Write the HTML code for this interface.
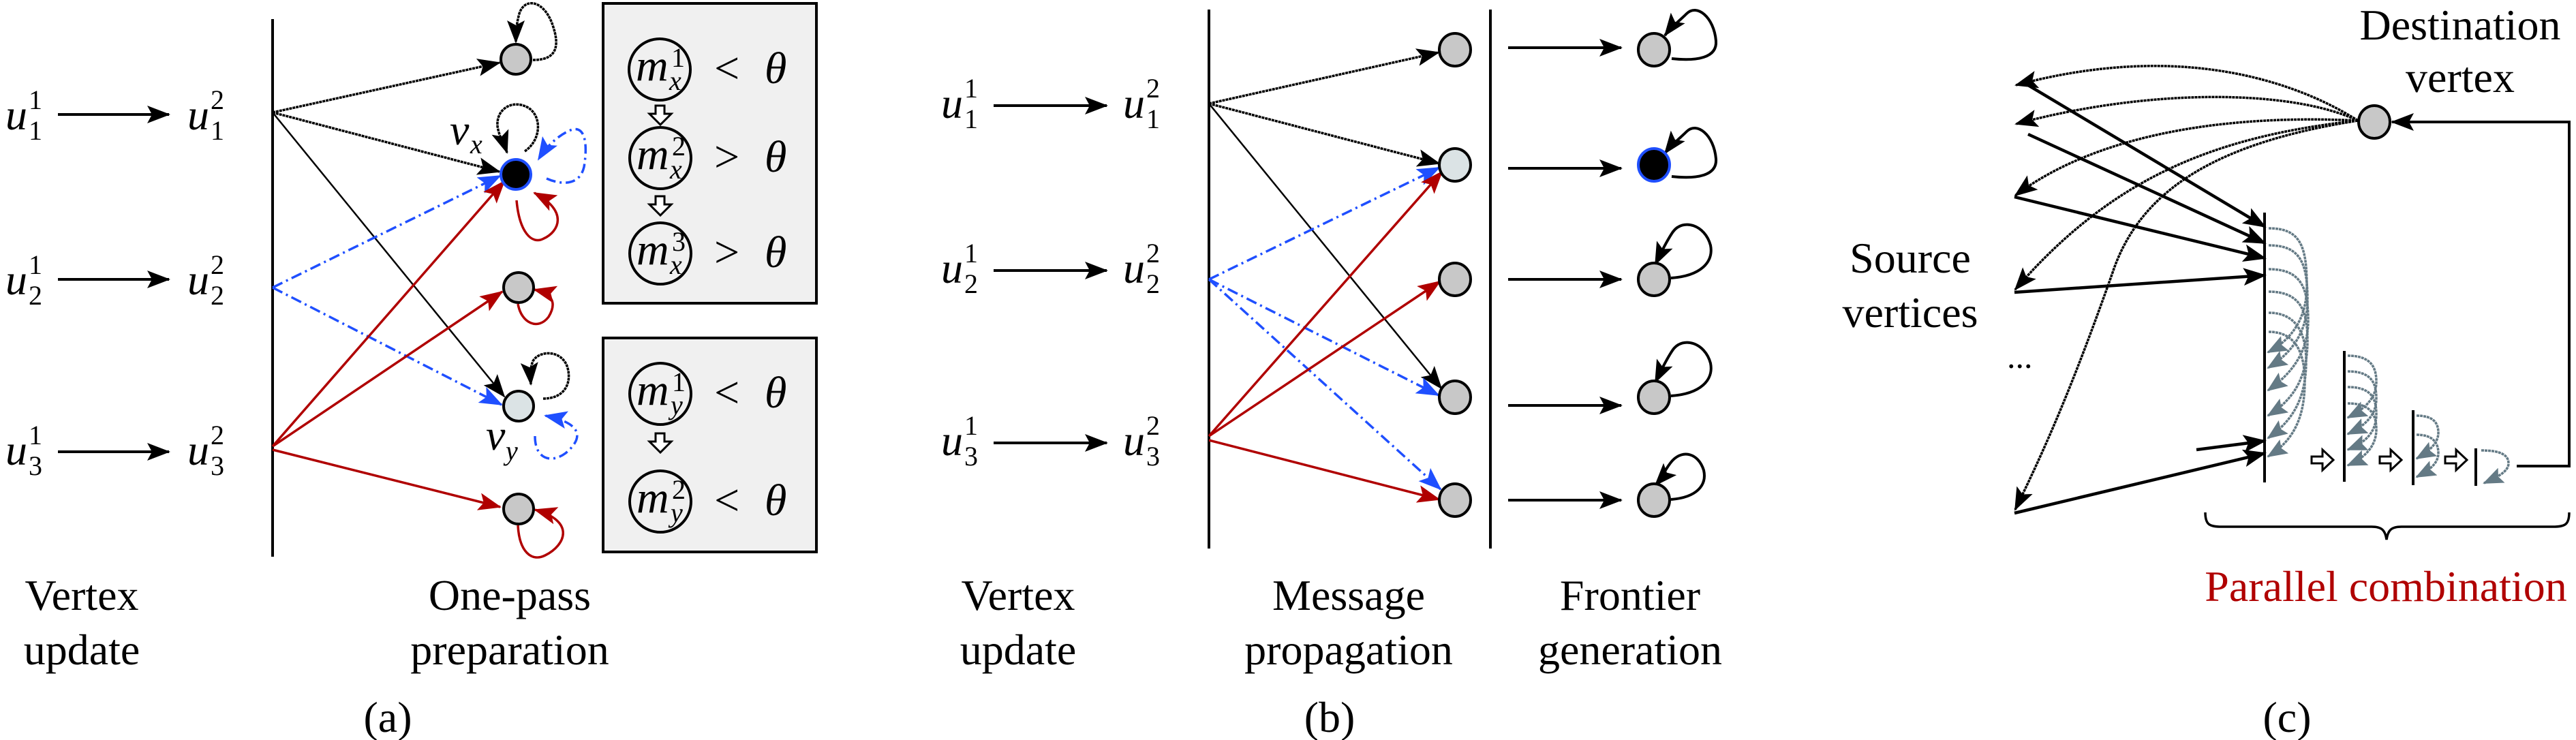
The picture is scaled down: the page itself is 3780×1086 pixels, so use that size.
<!DOCTYPE html>
<html><head><meta charset="utf-8"><style>
html,body{margin:0;padding:0;background:#fff;}
svg{display:block;font-family:"Liberation Serif","Times New Roman","DejaVu Serif",serif;}
svg text{font-family:"Liberation Serif","Times New Roman","DejaVu Serif",serif;}
.it{font-style:italic;}
</style></head><body>
<svg width="3780" height="1086" viewBox="0 0 3780 1086" xmlns="http://www.w3.org/2000/svg" font-family="Liberation Serif, DejaVu Serif, serif">
<defs>
<marker id="a" markerWidth="34" markerHeight="26" refX="32" refY="13" orient="auto" markerUnits="userSpaceOnUse" viewBox="0 0 34 26"><path d="M0,0 L34,13 L0,26 L7,13 z" fill="#000"/></marker>
<marker id="b" markerWidth="34" markerHeight="26" refX="32" refY="13" orient="auto" markerUnits="userSpaceOnUse" viewBox="0 0 34 26"><path d="M0,0 L34,13 L0,26 L7,13 z" fill="#1f4fff"/></marker>
<marker id="r" markerWidth="34" markerHeight="26" refX="32" refY="13" orient="auto" markerUnits="userSpaceOnUse" viewBox="0 0 34 26"><path d="M0,0 L34,13 L0,26 L7,13 z" fill="#b00000"/></marker>
<marker id="g" markerWidth="30" markerHeight="24" refX="28" refY="12" orient="auto" markerUnits="userSpaceOnUse" viewBox="0 0 30 24"><path d="M0,0 L30,12 L0,24 L5,12 z" fill="#647a85"/></marker>
</defs>

<!-- ============ Panel (a) ============ -->
<g font-size="64">
<text x="8" y="190" class="it">u</text><text x="42" y="160" font-size="40">1</text><text x="42" y="205" font-size="40">1</text>
<text x="275" y="190" class="it">u</text><text x="309" y="160" font-size="40">2</text><text x="309" y="205" font-size="40">1</text>
<text x="8" y="432" class="it">u</text><text x="42" y="402" font-size="40">1</text><text x="42" y="447" font-size="40">2</text>
<text x="275" y="432" class="it">u</text><text x="309" y="402" font-size="40">2</text><text x="309" y="447" font-size="40">2</text>
<text x="8" y="682" class="it">u</text><text x="42" y="652" font-size="40">1</text><text x="42" y="697" font-size="40">3</text>
<text x="275" y="682" class="it">u</text><text x="309" y="652" font-size="40">2</text><text x="309" y="697" font-size="40">3</text>
</g>
<g stroke="#000" stroke-width="4" marker-end="url(#a)">
<line x1="85" y1="168" x2="248" y2="168"/>
<line x1="85" y1="410" x2="248" y2="410"/>
<line x1="85" y1="663" x2="248" y2="663"/>
</g>
<line x1="400" y1="28" x2="400" y2="817" stroke="#000" stroke-width="4"/>

<g fill="none" stroke-width="3.5">
<line x1="400" y1="165" x2="733" y2="92" stroke="#000" stroke-dasharray="4,1" marker-end="url(#a)"/>
<line x1="400" y1="165" x2="733" y2="252" stroke="#000" stroke-dasharray="4,1" marker-end="url(#a)"/>
<line x1="400" y1="165" x2="740" y2="582" stroke="#000" stroke-width="2.5" marker-end="url(#a)"/>
<line x1="400" y1="422" x2="734" y2="258" stroke="#1f4fff" stroke-dasharray="16,6,3,6" marker-end="url(#b)"/>
<line x1="400" y1="422" x2="736" y2="594" stroke="#1f4fff" stroke-dasharray="16,6,3,6" marker-end="url(#b)"/>
<line x1="400" y1="655" x2="740" y2="266" stroke="#b00000" marker-end="url(#r)"/>
<line x1="400" y1="655" x2="737" y2="428" stroke="#b00000" marker-end="url(#r)"/>
<line x1="400" y1="660" x2="734" y2="744" stroke="#b00000" marker-end="url(#r)"/>
</g>
<g fill="none" stroke-width="3.5">
<path d="M782 88 C805 88 825 80 812 40 C800 0 770 -5 762 20 C758 35 757 45 757 62" stroke="#000" stroke-dasharray="4,1" marker-end="url(#a)"/>
<path d="M770 222 C795 205 795 170 775 158 C752 145 728 160 730 185 C732 200 740 212 744 224" stroke="#000" stroke-dasharray="4,1" marker-end="url(#a)"/>
<path d="M802 262 C820 270 850 275 857 245 C862 215 860 185 840 190 C825 195 805 210 790 234" stroke="#1f4fff" stroke-dasharray="14,6,3,6" marker-end="url(#b)"/>
<path d="M758 294 C762 340 780 360 798 350 C820 340 835 310 784 283" stroke="#b00000" marker-end="url(#r)"/>
<path d="M760 446 C765 475 790 485 805 465 C820 440 805 430 784 425" stroke="#b00000" marker-end="url(#r)"/>
<path d="M797 585 C830 585 840 560 832 537 C822 512 790 515 782 530 C778 540 778 550 779 564" stroke="#000" stroke-dasharray="4,1" marker-end="url(#a)"/>
<path d="M785 640 C785 675 810 680 830 665 C860 640 850 620 800 610" stroke="#1f4fff" stroke-dasharray="14,6,3,6" marker-end="url(#b)"/>
<path d="M760 771 C762 810 780 825 800 815 C830 800 845 765 785 748" stroke="#b00000" marker-end="url(#r)"/>
</g>
<g stroke="#000" stroke-width="4">
<circle cx="757" cy="87" r="22" fill="#c8c8c8"/>
<circle cx="757" cy="256" r="22" fill="#000" stroke="#1f4fff"/>
<circle cx="761" cy="422" r="22" fill="#c8c8c8"/>
<circle cx="761" cy="596" r="22" fill="#dbe3e5"/>
<circle cx="761" cy="747" r="22" fill="#c8c8c8"/>
</g>
<text x="660" y="212" font-size="64" class="it">v</text><text x="690" y="225" font-size="40" class="it">x</text>
<text x="713" y="660" font-size="64" class="it">v</text><text x="742" y="675" font-size="40" class="it">y</text>

<rect x="885" y="5" width="313" height="440" fill="#f0f0f0" stroke="#000" stroke-width="4"/>
<rect x="885" y="496" width="313" height="314" fill="#f0f0f0" stroke="#000" stroke-width="4"/>
<g fill="none" stroke="#000" stroke-width="4">
<circle cx="968" cy="102" r="45"/><circle cx="969" cy="232" r="45"/><circle cx="969" cy="372" r="45"/>
<circle cx="969" cy="578" r="45"/><circle cx="969" cy="736" r="45"/>
</g>
<g fill="#fff" stroke="#000" stroke-width="3">
<path d="M962 155 h13 v12 h10 l-16 16 l-16 -16 h9 z"/>
<path d="M962 288 h13 v12 h10 l-16 16 l-16 -16 h9 z"/>
<path d="M962 636 h13 v12 h10 l-16 16 l-16 -16 h9 z"/>
</g>
<g font-size="66">
<text x="933" y="118" class="it">m</text><text x="985" y="98" font-size="40">1</text><text x="982" y="132" font-size="40" class="it">x</text>
<text x="934" y="248" class="it">m</text><text x="986" y="228" font-size="40">2</text><text x="983" y="262" font-size="40" class="it">x</text>
<text x="934" y="388" class="it">m</text><text x="986" y="368" font-size="40">3</text><text x="983" y="402" font-size="40" class="it">x</text>
<text x="934" y="594" class="it">m</text><text x="986" y="574" font-size="40">1</text><text x="984" y="608" font-size="40" class="it">y</text>
<text x="934" y="752" class="it">m</text><text x="986" y="732" font-size="40">2</text><text x="984" y="766" font-size="40" class="it">y</text>
<text x="1048" y="122">&lt;</text><text x="1122" y="122" class="it">θ</text>
<text x="1048" y="252">&gt;</text><text x="1122" y="252" class="it">θ</text>
<text x="1048" y="392">&gt;</text><text x="1122" y="392" class="it">θ</text>
<text x="1048" y="598">&lt;</text><text x="1122" y="598" class="it">θ</text>
<text x="1048" y="756">&lt;</text><text x="1122" y="756" class="it">θ</text>
</g>
<g font-size="64" text-anchor="middle">
<text x="120" y="895">Vertex</text><text x="120" y="975">update</text>
<text x="748" y="895">One-pass</text><text x="748" y="975">preparation</text>
<text x="569" y="1074">(a)</text>
</g>

<!-- ============ Panel (b) ============ -->
<g font-size="64">
<text x="1381" y="173" class="it">u</text><text x="1415" y="143" font-size="40">1</text><text x="1415" y="188" font-size="40">1</text>
<text x="1648" y="173" class="it">u</text><text x="1682" y="143" font-size="40">2</text><text x="1682" y="188" font-size="40">1</text>
<text x="1381" y="415" class="it">u</text><text x="1415" y="385" font-size="40">1</text><text x="1415" y="430" font-size="40">2</text>
<text x="1648" y="415" class="it">u</text><text x="1682" y="385" font-size="40">2</text><text x="1682" y="430" font-size="40">2</text>
<text x="1381" y="668" class="it">u</text><text x="1415" y="638" font-size="40">1</text><text x="1415" y="683" font-size="40">3</text>
<text x="1648" y="668" class="it">u</text><text x="1682" y="638" font-size="40">2</text><text x="1682" y="683" font-size="40">3</text>
</g>
<g stroke="#000" stroke-width="4" marker-end="url(#a)">
<line x1="1458" y1="155" x2="1624" y2="155"/>
<line x1="1458" y1="397" x2="1624" y2="397"/>
<line x1="1458" y1="650" x2="1624" y2="650"/>
<line x1="2213" y1="70" x2="2379" y2="70"/>
<line x1="2213" y1="247" x2="2379" y2="247"/>
<line x1="2213" y1="410" x2="2379" y2="410"/>
<line x1="2213" y1="595" x2="2379" y2="595"/>
<line x1="2213" y1="734" x2="2379" y2="734"/>
</g>
<line x1="1774" y1="14" x2="1774" y2="805" stroke="#000" stroke-width="4"/>
<line x1="2187" y1="14" x2="2187" y2="805" stroke="#000" stroke-width="4"/>
<g fill="none" stroke-width="3.5">
<line x1="1774" y1="152" x2="2111" y2="77" stroke="#000" stroke-dasharray="4,1" marker-end="url(#a)"/>
<line x1="1774" y1="152" x2="2112" y2="240" stroke="#000" stroke-dasharray="4,1" marker-end="url(#a)"/>
<line x1="1774" y1="152" x2="2115" y2="570" stroke="#000" stroke-width="2.5" marker-end="url(#a)"/>
<line x1="1774" y1="410" x2="2112" y2="246" stroke="#1f4fff" stroke-dasharray="16,6,3,6" marker-end="url(#b)"/>
<line x1="1774" y1="410" x2="2111" y2="580" stroke="#1f4fff" stroke-dasharray="16,6,3,6" marker-end="url(#b)"/>
<line x1="1774" y1="410" x2="2114" y2="718" stroke="#1f4fff" stroke-dasharray="16,6,3,6" marker-end="url(#b)"/>
<line x1="1774" y1="640" x2="2116" y2="252" stroke="#b00000" marker-end="url(#r)"/>
<line x1="1774" y1="640" x2="2113" y2="413" stroke="#b00000" marker-end="url(#r)"/>
<line x1="1774" y1="646" x2="2112" y2="733" stroke="#b00000" marker-end="url(#r)"/>
</g>
<g fill="none" stroke="#000" stroke-width="4">
<path d="M2453 86 C2490 90 2520 85 2518 60 C2515 25 2490 5 2475 20 C2465 30 2452 40 2443 52" marker-end="url(#a)"/>
<path d="M2453 259 C2490 263 2520 258 2518 233 C2515 198 2490 178 2475 193 C2465 203 2452 213 2443 225" marker-end="url(#a)"/>
<path d="M2452 408 C2495 405 2515 385 2510 360 C2502 330 2470 320 2455 340 C2448 350 2440 365 2429 388" marker-end="url(#a)"/>
<path d="M2452 581 C2495 578 2515 558 2510 533 C2502 503 2470 493 2455 513 C2448 523 2440 538 2429 561" marker-end="url(#a)"/>
<path d="M2452 733 C2490 730 2505 712 2500 690 C2492 665 2470 660 2455 675 C2445 685 2440 700 2429 712" marker-end="url(#a)"/>
</g>
<g stroke="#000" stroke-width="4">
<ellipse cx="2135" cy="73" rx="23" ry="24" fill="#c8c8c8"/>
<ellipse cx="2135" cy="242" rx="23" ry="24" fill="#dbe3e5"/>
<ellipse cx="2135" cy="410" rx="23" ry="24" fill="#c8c8c8"/>
<ellipse cx="2135" cy="583" rx="23" ry="24" fill="#c8c8c8"/>
<ellipse cx="2135" cy="734" rx="23" ry="24" fill="#c8c8c8"/>
<ellipse cx="2427" cy="73" rx="23" ry="24" fill="#c8c8c8"/>
<ellipse cx="2427" cy="242" rx="23" ry="24" fill="#000" stroke="#1f4fff"/>
<ellipse cx="2427" cy="410" rx="23" ry="24" fill="#c8c8c8"/>
<ellipse cx="2427" cy="583" rx="23" ry="24" fill="#c8c8c8"/>
<ellipse cx="2427" cy="734" rx="23" ry="24" fill="#c8c8c8"/>
</g>
<g font-size="64" text-anchor="middle">
<text x="1494" y="895">Vertex</text><text x="1494" y="975">update</text>
<text x="1979" y="895">Message</text><text x="1979" y="975">propagation</text>
<text x="2392" y="895">Frontier</text><text x="2392" y="975">generation</text>
<text x="1951" y="1074">(b)</text>
</g>

<!-- ============ Panel (c) ============ -->
<g font-size="64" text-anchor="middle">
<text x="3610" y="58">Destination</text><text x="3610" y="135">vertex</text>
<text x="2803" y="400">Source</text><text x="2803" y="480">vertices</text>
<text x="3356" y="1074">(c)</text>
</g>
<text x="2945" y="540" font-size="50">...</text>
<text x="3501" y="882" font-size="64" text-anchor="middle" fill="#b00000">Parallel combination</text>
<g fill="none" stroke="#000" stroke-width="3.5" stroke-dasharray="4,1" marker-end="url(#a)">
<path d="M3460 177 C3370 120 3200 60 2958 125"/>
<path d="M3460 177 C3360 130 3150 130 2958 182"/>
<path d="M3460 177 C3320 170 3100 180 2957 287"/>
<path d="M3460 177 C3250 200 3100 260 2957 425"/>
<path d="M3460 177 C3250 210 3140 280 3100 400 C3040 570 3000 660 2957 748"/>
</g>
<g fill="none" stroke="#000" stroke-width="4.5" marker-end="url(#a)">
<line x1="2976" y1="125" x2="3324" y2="333"/>
<line x1="2976" y1="197" x2="3324" y2="357"/>
<line x1="2956" y1="289" x2="3324" y2="379"/>
<line x1="2956" y1="429" x2="3324" y2="404"/>
<line x1="3223" y1="660" x2="3324" y2="647"/>
<line x1="2956" y1="753" x2="3324" y2="665"/>
</g>
<path d="M3693 684 H3770 V179 H3510" fill="none" stroke="#000" stroke-width="4" marker-end="url(#a)"/>
<ellipse cx="3484" cy="179" rx="23" ry="24" fill="#c8c8c8" stroke="#000" stroke-width="4"/>
<g stroke="#000" stroke-width="4">
<line x1="3323" y1="312" x2="3323" y2="708"/>
<line x1="3440" y1="515" x2="3440" y2="707"/>
<line x1="3541" y1="602" x2="3541" y2="712"/>
<line x1="3633" y1="658" x2="3633" y2="713"/>
</g>
<g fill="none" stroke="#647a85" stroke-width="3.5" stroke-dasharray="4,1" marker-end="url(#g)">
<path d="M3329 335 C3375 335 3385 360 3385 420 C3385 470 3360 500 3328 517"/>
<path d="M3329 360 C3375 360 3386 385 3386 440 C3386 490 3360 520 3328 540"/>
<path d="M3329 395 C3375 395 3387 420 3387 470 C3387 520 3360 550 3328 573"/>
<path d="M3329 428 C3375 428 3386 455 3386 500 C3386 560 3360 590 3328 610"/>
<path d="M3329 459 C3370 459 3384 490 3384 530 C3384 590 3360 620 3328 643"/>
<path d="M3329 487 C3370 487 3382 520 3382 560 C3382 620 3360 650 3328 670"/>
<path d="M3445 522 C3480 522 3487 540 3487 560 C3487 585 3470 600 3445 613"/>
<path d="M3445 545 C3480 545 3487 562 3487 585 C3487 610 3470 625 3445 637"/>
<path d="M3445 568 C3480 568 3487 585 3487 608 C3487 635 3470 650 3445 660"/>
<path d="M3445 592 C3480 592 3487 610 3487 630 C3487 655 3470 672 3445 683"/>
<path d="M3546 610 C3570 610 3578 620 3578 635 C3578 650 3565 662 3546 673"/>
<path d="M3546 638 C3570 638 3578 650 3578 665 C3578 680 3565 690 3546 700"/>
<path d="M3641 661 C3670 661 3681 668 3681 680 C3681 692 3665 700 3645 709"/>
</g>
<g fill="#fff" stroke="#000" stroke-width="3">
<path d="M3392 670 h16 v-10 l16 15 l-16 15 v-10 h-16 z"/>
<path d="M3492 670 h16 v-10 l16 15 l-16 15 v-10 h-16 z"/>
<path d="M3588 670 h16 v-10 l16 15 l-16 15 v-10 h-16 z"/>
</g>
<path d="M3236 752 C3236 770 3242 773 3260 773 H3480 C3495 773 3500 778 3502 792 C3504 778 3509 773 3524 773 H3746 C3764 773 3770 770 3770 752" fill="none" stroke="#000" stroke-width="3.5"/>
</svg>
</body></html>
